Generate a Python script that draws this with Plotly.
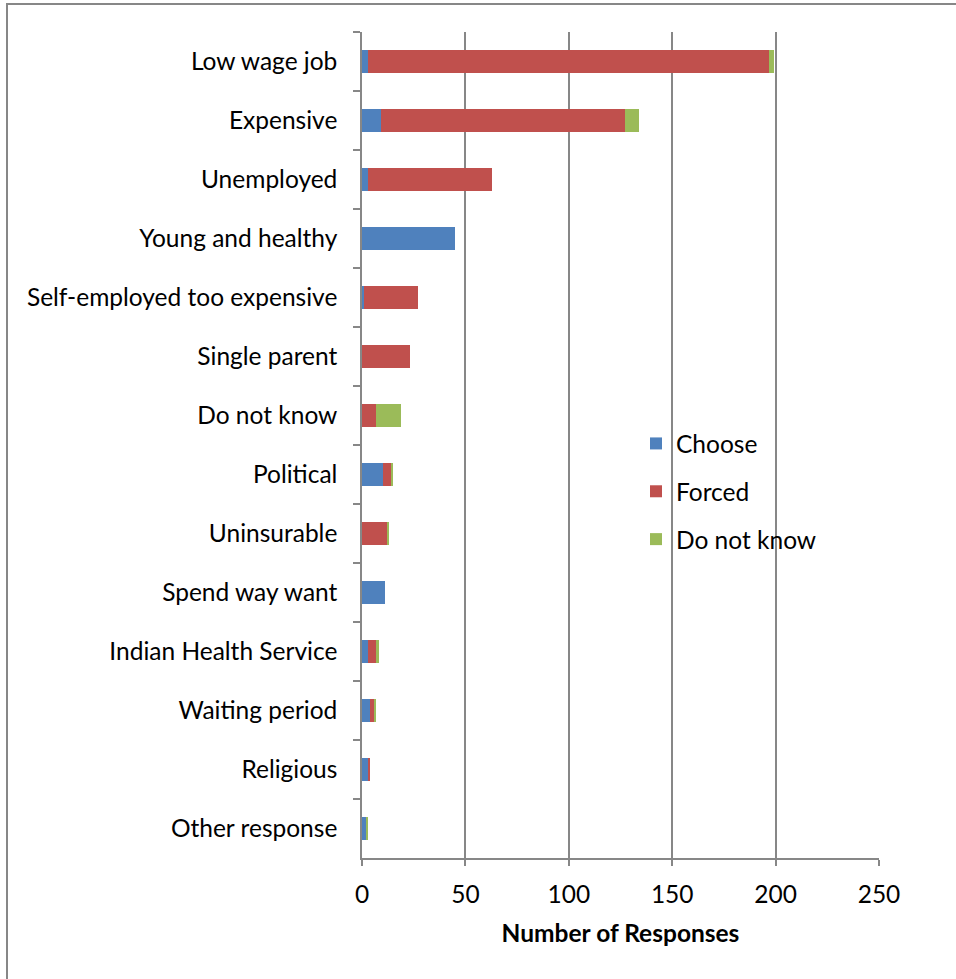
import plotly.graph_objects as go

categories = ["Low wage job", "Expensive", "Unemployed", "Young and healthy",
              "Self-employed too expensive", "Single parent", "Do not know",
              "Political", "Uninsurable", "Spend way want", "Indian Health Service",
              "Waiting period", "Religious", "Other response"]
choose = [3, 9, 3, 45, 1, 0, 0, 10, 0, 11, 3, 4, 3, 2]
forced = [194, 118, 60, 0, 26, 23, 7, 4, 12, 0, 4, 2, 1, 0]
dont_know = [2, 7, 0, 0, 0, 0, 12, 1, 1, 0, 1, 1, 0, 1]

series = [("Choose", choose, "#4F81BD"),
          ("Forced", forced, "#C0504D"),
          ("Do not know", dont_know, "#9BBB59")]

FONT = "Lato"
FS = 24.5
W, H = 956, 979
L, R, T, B = 362, 77, 32, 121

fig = go.Figure()
for name, vals, col in series:
    fig.add_trace(go.Bar(
        y=categories, x=vals, name=name, orientation="h",
        marker=dict(color=col, line=dict(width=0)),
        legendgroup=name,
    ))

pw = W - L - R
ph = H - T - B
def px_x(p):
    return (p - L) / pw
def px_y(p):
    return (H - B - p) / ph

fig.update_layout(
    width=W, height=H,
    margin=dict(l=L, r=R, t=T, b=B, pad=0),
    barmode="stack", bargap=0.6,
    plot_bgcolor="white", paper_bgcolor="white",
    font=dict(family=FONT, size=FS, color="#000000"),
    showlegend=True,
    legend=dict(
        x=px_x(636), y=px_y(421), xanchor="left", yanchor="top",
        traceorder="grouped", tracegroupgap=13,
        font=dict(family=FONT, size=FS, color="#000000"),
        bgcolor="rgba(0,0,0,0)", itemwidth=30,
    ),
    xaxis=dict(
        range=[0, 250], tickvals=[0, 50, 100, 150, 200, 250],
        showgrid=True, gridcolor="#878787", gridwidth=1.5,
        showline=True, linecolor="#878787", linewidth=1.5,
        ticks="outside", ticklen=6, tickcolor="#878787", tickwidth=1.5,
        ticklabelstandoff=8,
        zeroline=False,
        title=dict(text="<b>Number of Responses</b>", font=dict(family=FONT, size=FS), standoff=18),
        fixedrange=True,
    ),
    yaxis=dict(
        categoryorder="array", categoryarray=categories, autorange="reversed",
        showline=True, linecolor="#878787", linewidth=1.5,
        ticks="outside", ticklen=7, tickcolor="#878787", tickwidth=1.5,
        tickson="boundaries", ticklabelstandoff=18,
        showgrid=False, zeroline=False,
        fixedrange=True,
    ),
    shapes=[dict(
        type="rect", xref="paper", yref="paper",
        x0=px_x(7), x1=px_x(990), y0=px_y(1010), y1=px_y(4),
        line=dict(color="#878787", width=2), fillcolor="rgba(0,0,0,0)", layer="below",
    )],
)

fig.write_html("out.html")
